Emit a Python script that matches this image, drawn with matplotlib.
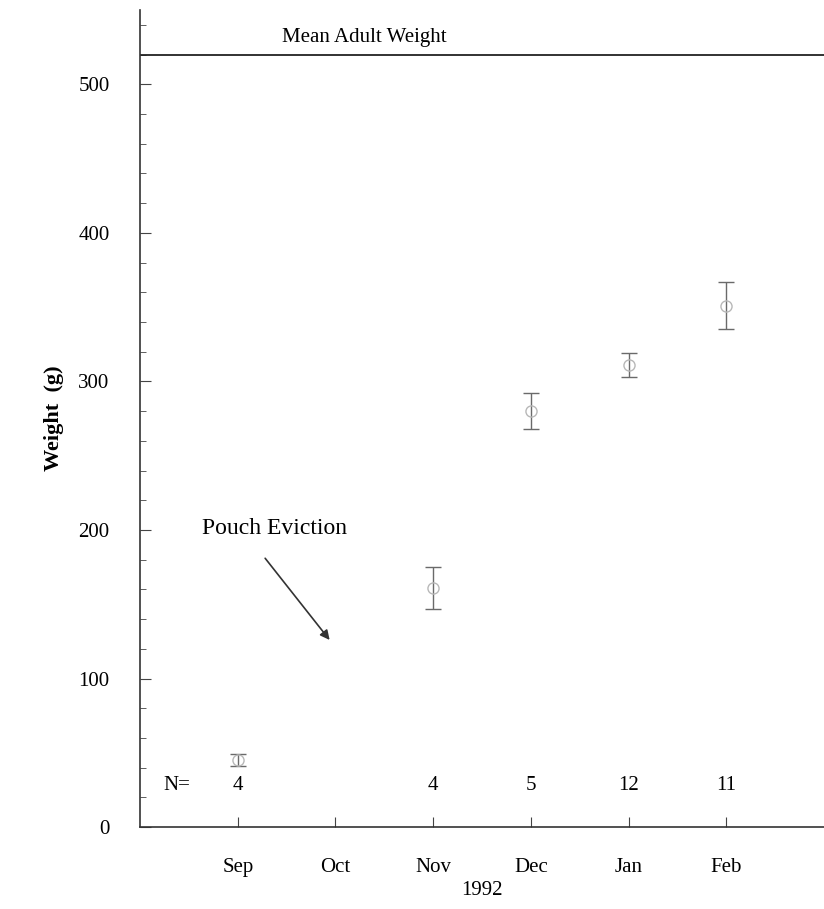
import numpy as np
import matplotlib.pyplot as plt
from matplotlib.ticker import MultipleLocator

# data
months = ["Sep", "Oct", "Nov", "Dec", "Jan", "Feb"]
month_pos = [1, 2, 3, 4, 5, 6]
obs_pos = [1, 3, 4, 5, 6]
mean_weight = [45, 161, 280, 311, 351]
weight_err = [4, 14, 12, 8, 16]
n_labels = ["4", "4", "5", "12", "11"]
adult_weight = 520

plt.rcParams['font.family'] = ['Liberation Serif', 'DejaVu Serif']

fig = plt.figure(figsize=(8.24, 9.09), dpi=100)
ax = fig.add_axes([0.17, 0.09, 0.83, 0.899])

ax.errorbar(obs_pos, mean_weight, yerr=weight_err, fmt='o', mfc='none',
            mec='#b8b8b8', ms=8, mew=1.0, ecolor='#6a6a6a', elinewidth=1.0,
            capsize=6, capthick=1.8)

ax.axhline(adult_weight, color='#222222', lw=1.3)
ax.text(2.3, adult_weight + 5, "Mean Adult Weight", ha='center', va='bottom',
        fontsize=15)

for x, n in zip(obs_pos, n_labels):
    ax.text(x, 28, n, ha='center', va='center', fontsize=15)
ax.text(0.38, 28, "N=", ha='center', va='center', fontsize=15)

ax.text(1.38, 201, "Pouch Eviction", ha='center', va='center', fontsize=17)
ax.annotate("", xy=(1.94, 126), xytext=(1.28, 181),
            arrowprops=dict(arrowstyle='-|>', color='#333333', lw=1.2,
                            shrinkA=0, shrinkB=0, mutation_scale=14))

ax.set_xlim(0, 7)
ax.set_ylim(0, 550)
ax.set_xticks(month_pos)
ax.set_xticklabels(months, fontsize=15)
ax.set_xlabel("1992", fontsize=15, labelpad=3)
ax.set_ylabel("Weight  (g)", fontsize=16, fontweight='bold', labelpad=10)
ax.yaxis.set_major_locator(MultipleLocator(100))
ax.yaxis.set_minor_locator(MultipleLocator(20))
ax.tick_params(axis='both', which='both', direction='in', labelsize=15,
               color='#444444')
ax.tick_params(axis='y', which='major', length=8, pad=22)
ax.tick_params(axis='y', which='minor', length=4)
ax.tick_params(axis='x', length=7, pad=22)

for s in ['top', 'right']:
    ax.spines[s].set_visible(False)
for s in ['left', 'bottom']:
    ax.spines[s].set_color('#333333')
    ax.spines[s].set_linewidth(1.2)

fig.savefig("out.png", dpi=100)
